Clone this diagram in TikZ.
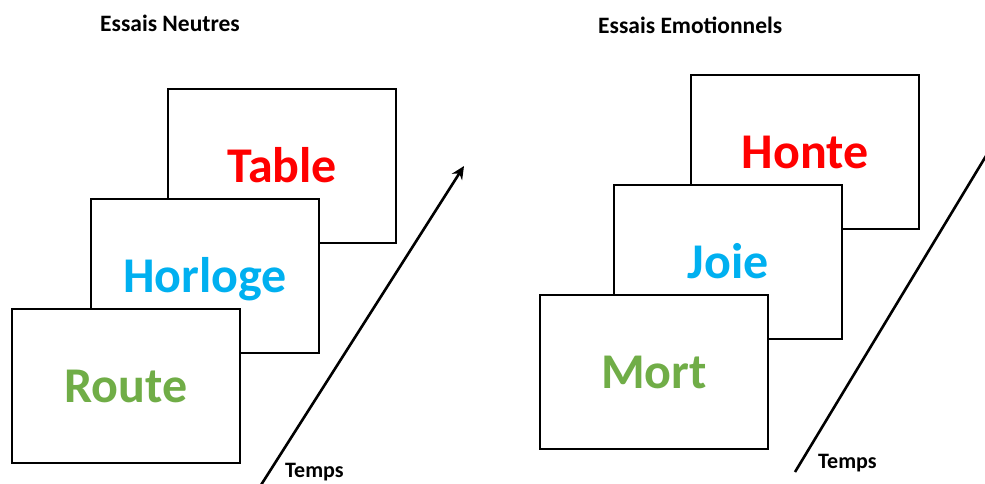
\documentclass[tikz,border=0pt]{standalone}
\usepackage{fontspec}
\setmainfont{Carlito}
\usetikzlibrary{arrows.meta}

\definecolor{wordred}{HTML}{FF0000}
\definecolor{wordblue}{HTML}{00B0F0}
\definecolor{wordgreen}{HTML}{70AD47}

\begin{document}
\begin{tikzpicture}[
    x=1pt, y=-1pt,
    card/.style={
        rectangle,
        draw=black,
        fill=white,
        line width=2.8pt,
        minimum width=228pt,
        minimum height=154pt,
        inner sep=0pt,
        text height=32pt,
        text depth=0pt,
        font=\fontsize{50}{60}\selectfont\bfseries
    },
    timeline/.style={
        -{Stealth[length=13pt,width=12pt]},
        line width=2.6pt
    },
    caption/.style={
        anchor=base west,
        inner sep=0pt,
        font=\fontsize{23.5}{28}\selectfont\bfseries
    }
]
\clip (0,0) rectangle (985,483);

% Titles
\node[caption] (neutral) at (100,31) {Essais Neutres};
\node[caption] (emotional) at (598,33) {Essais Emotionnels};

% Neutral trials
\node[card, text=wordred] (table) at (282,166) {Table};
\node[card, text=wordblue] (horloge) at (205,276) {Horloge};
\node[card, text=wordgreen] (route) at (126,386) {Route};

% Emotional trials
\node[card, text=wordred] (honte) at (805,152) {Honte};
\node[card, text=wordblue] (joie) at (728,262) {Joie};
\node[card, text=wordgreen] (mort) at (654,372) {Mort};

% Time axes
\coordinate (timeA0) at (261,485);
\coordinate (timeA1) at (464,166);
\coordinate (timeB0) at (795,472);
\coordinate (timeB1) at (992,146);
\draw[timeline] (timeA0) -- (timeA1);
\draw[line width=2.6pt] (timeB0) -- (timeB1);
\node[caption, font=\fontsize{22}{26}\selectfont\bfseries] (tempsA) at (285,477) {Temps};
\node[caption, font=\fontsize{22}{26}\selectfont\bfseries] (tempsB) at (818,468) {Temps};

\end{tikzpicture}
\end{document}
